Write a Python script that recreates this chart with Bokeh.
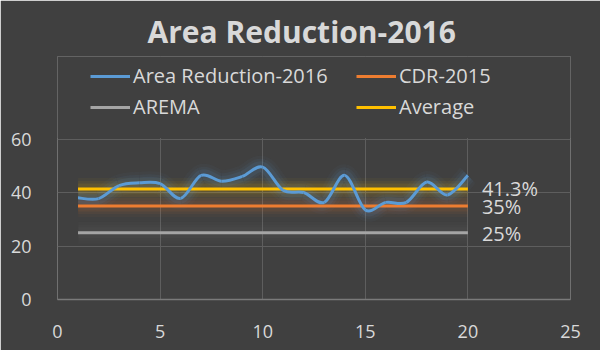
from bokeh.plotting import figure
from bokeh.models import Range1d, FixedTicker, Legend, LegendItem, ColumnDataSource, BoxAnnotation
from bokeh.core.properties import value
from bokeh.embed import file_html
from bokeh.resources import INLINE

# ---- data ----
run_x = list(range(1, 21))
area_reduction_2016 = [38.0, 37.7, 42.6, 43.6, 43.3, 37.8, 46.4, 44.2, 46.0, 49.5,
                       40.8, 40.0, 36.3, 46.4, 33.5, 36.3, 36.3, 43.9, 39.1, 46.4]
cdr_2015 = 35.0
arema = 25.0
average = 41.3
ref_labels = ["41.3%", "35%", "25%"]
x_ticks = [0, 5, 10, 15, 20, 25]
y_ticks = [0, 20, 40, 60]

BG = "#404040"
TXT = "#d9d9d9"
BLUE = "#5b9bd5"
ORANGE = "#ed7d31"
GREY = "#a5a5a5"
YELLOW = "#ffc000"
FONT = "Open Sans"

Y_TOP = 60 * 243 / 160.5  # frame extends above the 60 line to host the legend

p = figure(width=600, height=350, output_backend="svg", toolbar_location=None,
           x_range=Range1d(0, 25), y_range=Range1d(0, Y_TOP),
           min_border_left=57, min_border_right=30, min_border_top=56, min_border_bottom=51,
           background_fill_color=BG, border_fill_color=BG, outline_line_color=None)

p.title.text = "Area Reduction-2016"
p.title.align = "left"
p.title.offset = 90
p.title.text_font = FONT
p.title.text_font_style = "bold"
p.title.text_font_size = "30px"
p.title.text_color = TXT

# axes
p.xaxis.ticker = FixedTicker(ticks=x_ticks)
p.yaxis.ticker = FixedTicker(ticks=y_ticks)
for ax in (p.xaxis, p.yaxis):
    ax.major_tick_line_color = None
    ax.minor_tick_line_color = None
    ax.major_label_text_font = FONT
    ax.major_label_text_font_size = "18px"
    ax.major_label_text_color = TXT
p.yaxis.axis_line_color = None
p.xaxis.axis_line_color = "#7a7a7a"
p.xaxis.axis_line_width = 1.5
p.yaxis.major_label_standoff = 20
p.xaxis.major_label_standoff = 19
p.xgrid.grid_line_color = "#5e5e5e"
p.ygrid.grid_line_color = "#5e5e5e"

# hide vertical grid lines above the 60 line
p.add_layout(BoxAnnotation(bottom=60.4, fill_color=BG, fill_alpha=1.0, line_alpha=0, level="underlay"))

# smooth (Excel-like) curve via bezier segments built from the data points
n = len(run_x)
x0, y0, x1, y1, cx0, cy0, cx1, cy1 = [], [], [], [], [], [], [], []
for i in range(n - 1):
    xm, ym = run_x[max(i - 1, 0)], area_reduction_2016[max(i - 1, 0)]
    xa, ya = run_x[i], area_reduction_2016[i]
    xb, yb = run_x[i + 1], area_reduction_2016[i + 1]
    xp, yp = run_x[min(i + 2, n - 1)], area_reduction_2016[min(i + 2, n - 1)]
    x0.append(xa); y0.append(ya); x1.append(xb); y1.append(yb)
    cx0.append(xa + (xb - xm) / 6); cy0.append(ya + (yb - ym) / 6)
    cx1.append(xb - (xp - xa) / 6); cy1.append(yb - (yp - ya) / 6)
bez = ColumnDataSource(dict(x0=x0, y0=y0, x1=x1, y1=y1, cx0=cx0, cy0=cy0, cx1=cx1, cy1=cy1))

xs_ref = [run_x[0], run_x[-1]]

# glow layers
for w, a in [(22, 0.04), (16, 0.06), (11, 0.09)]:
    p.line(xs_ref, [average, average], line_color=YELLOW, line_width=w, line_alpha=a)
    p.line(xs_ref, [cdr_2015, cdr_2015], line_color=ORANGE, line_width=w, line_alpha=a)
    p.line(xs_ref, [arema, arema], line_color=GREY, line_width=w, line_alpha=a * 0.4)
    p.bezier(x0="x0", y0="y0", x1="x1", y1="y1", cx0="cx0", cy0="cy0", cx1="cx1", cy1="cy1",
             source=bez, line_color=BLUE, line_width=w, line_alpha=a)

r_arema = p.line(xs_ref, [arema, arema], line_color=GREY, line_width=3)
r_cdr = p.line(xs_ref, [cdr_2015, cdr_2015], line_color=ORANGE, line_width=3)
r_avg = p.line(xs_ref, [average, average], line_color=YELLOW, line_width=3)
r_area = p.bezier(x0="x0", y0="y0", x1="x1", y1="y1", cx0="cx0", cy0="cy0", cx1="cx1", cy1="cy1",
                  source=bez, line_color=BLUE, line_width=3)

# value labels at the right end
p.text(x=[run_x[-1]] * 3, y=[average, cdr_2015, arema], text=ref_labels,
       x_offset=14, y_offset=[-1, 1, 1], text_font=value(FONT), text_font_size="20px",
       text_color=TXT, text_baseline="middle", text_align="left")

legend = Legend(items=[
    LegendItem(label="Area Reduction-2016", renderers=[r_area]),
    LegendItem(label="CDR-2015", renderers=[r_cdr]),
    LegendItem(label="AREMA", renderers=[r_arema]),
    LegendItem(label="Average", renderers=[r_avg]),
], ncols=2, orientation="horizontal", location=(33, 179),
    background_fill_alpha=0, border_line_alpha=0, padding=0, margin=0, spacing=4,
    glyph_width=40, glyph_height=22, label_height=22, label_width=219, label_standoff=3,
    label_text_font=FONT, label_text_font_size="20px", label_text_color=TXT)
p.add_layout(legend, "center")

open("out.html", "w").write(file_html(p, INLINE))
